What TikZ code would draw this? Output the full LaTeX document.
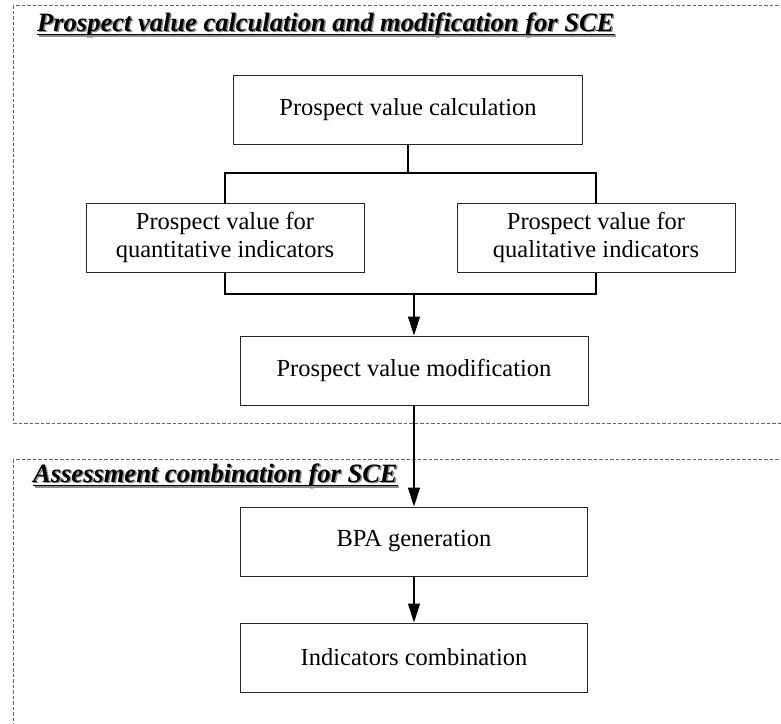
\documentclass[tikz,border=0pt]{standalone}
\usepackage{fontspec}
\setmainfont{Liberation Serif}
\usepackage{tikz}
\usetikzlibrary{arrows.meta,positioning,calc}

\begin{document}
\begin{tikzpicture}[
  x=1pt, y=-1pt,
  box/.style={draw=black!85, line width=1pt, align=center, minimum height=69pt, inner sep=2pt, font=\fontsize{24.5}{28}\selectfont},
  frame/.style={draw=black!60, line width=0.9pt, dash pattern=on 3.5pt off 2pt},
  title/.style={anchor=base west, inner sep=0pt, font=\fontsize{26.5}{30}\selectfont\bfseries\itshape},
  link/.style={line width=1.4pt},
  arrow/.style={-{Triangle[length=19pt,width=12pt]}, line width=1.4pt}
]
\clip (0,0) rectangle (781,723);
\useasboundingbox (0,0) rectangle (781,723);

% dashed frames
\draw[frame] (13,5) rectangle (800,423);
\draw[frame] (13,459) rectangle (800,745);

% titles with shadow
\node[title, text=black!45] at (38.5,32.5) {Prospect value calculation and modification for SCE};
\node[title] (title1) at (37,31) {Prospect value calculation and modification for SCE};
\draw[black!45, line width=1.2pt] ($(title1.base west)+(1.5,5)$) -- ($(title1.base east)+(1.5,5)$);
\draw[line width=1.2pt] ($(title1.base west)+(0,3.5)$) -- ($(title1.base east)+(0,3.5)$);

\node[title, text=black!45] at (34.5,483.5) {Assessment combination for SCE};
\node[title] (title2) at (33,482) {Assessment combination for SCE};
\draw[black!45, line width=1.2pt] ($(title2.base west)+(1.5,5)$) -- ($(title2.base east)+(1.5,5)$);
\draw[line width=1.2pt] ($(title2.base west)+(0,3.5)$) -- ($(title2.base east)+(0,3.5)$);

% boxes
\node[box, minimum width=349pt] (calc) at (408,109.5) {Prospect value calculation};
\node[box, minimum width=278pt] (quant) at (225,237.5) {Prospect value for\\quantitative indicators};
\node[box, minimum width=278pt] (qual) at (596,237.5) {Prospect value for\\qualitative indicators};
\node[box, minimum width=348pt] (mod) at (414,370.5) {Prospect value modification};
\node[box, minimum width=347pt] (bpa) at (414,541.5) {BPA generation};
\node[box, minimum width=347pt] (comb) at (414,657.5) {Indicators combination};

% connectors
\coordinate (split) at (408,173);
\coordinate (join) at (414,294);
\draw[link] (calc.south) -- (split);
\draw[link] (quant.north) |- (split) -| (qual.north);
\draw[link] (quant.south) |- (join) -| (qual.south);
\draw[arrow] (join) -- (mod.north);
\draw[arrow] (mod.south) -- (bpa.north);
\draw[arrow] (bpa.south) -- (comb.north);

\end{tikzpicture}
\end{document}
